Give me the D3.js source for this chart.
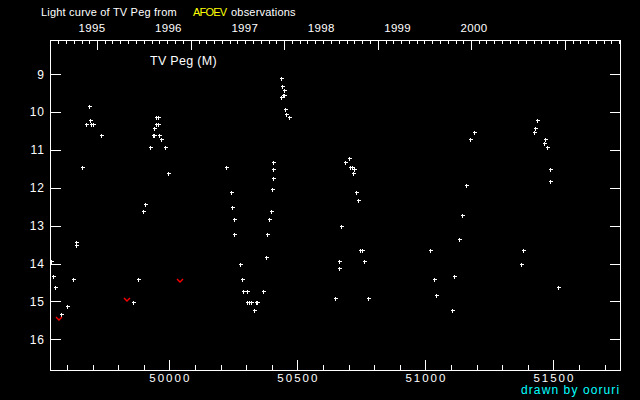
<!DOCTYPE html>
<html><head><meta charset="utf-8">
<script src="https://cdn.jsdelivr.net/npm/d3@7"></script>
<style>
html,body{margin:0;padding:0;background:#000;}
svg{display:block;}
text{font-family:"Liberation Sans",Arial,sans-serif;fill:#fff;}
</style></head>
<body>
<script>
// ---- data (JD - 2400000, visual magnitude) ----
const obsJD = [49688,49691,49676,49695,49703,49734,49660,49947,49957,49949,49957,49941,49935,49939,49961,49969,49926,49984,49996,49906,49898,
  49637,49637,49539,49547,49555,49625,49602,49578,49859,49879,
  50437,50441,50449,50445,50449,50437,50453,50457,50469,50223,50242,50246,50254,50406,50406,50406,50402,50398,50391,
  50703,50687,50707,50715,50723,50719,50730,50738,
  50672,50254,50383,50746,50754,50664,50762,50664,50379,50277,50285,50289,50305,50367,50305,50312,50320,50340,50344,50332,50648,50777,
  51191,51176,51160,51144,51437,51430,51426,51469,51465,51476,51488,51488,
  51133,51019,51113,51035,51043,51105,51383,51375,51519];
const obsMag = [9.83,10.22,10.33,10.33,10.33,10.62,11.44,10.12,10.12,10.33,10.33,10.43,10.62,10.62,10.62,10.72,10.93,10.93,11.62,12.44,12.62,
  13.44,13.52,13.94,14.34,14.63,14.42,15.13,15.34,15.02,14.42,
  9.11,9.32,9.43,9.54,9.54,9.61,9.93,10.04,10.12,11.44,12.12,12.52,12.83,11.33,11.51,11.73,12.02,12.62,12.83,
  11.22,11.33,11.44,11.44,11.51,11.62,12.12,12.33,
  13.02,13.23,13.23,13.63,13.63,13.94,13.94,14.13,13.84,14.02,14.42,14.73,14.73,14.73,15.02,15.02,15.02,15.02,15.02,15.23,14.92,14.92,
  10.54,10.72,11.94,12.73,10.22,10.43,10.54,10.72,10.83,10.93,11.51,11.83,
  13.34,13.63,14.34,14.42,14.84,15.23,13.63,14.02,14.63];
// "fainter than" upper limits
const limJD  = [49570,49836,50043];
const limMag = [15.46,14.97,14.47];

const magTicks = [9,10,11,12,13,14,15,16];
const jdLabels = [50000,50500,51000,51500];
const years = [1995,1996,1997,1998,1999,2000];

const W=640,H=400, L=50,R=620,T=40,B=370;
const svg = d3.select("body").append("svg").attr("width",W).attr("height",H)
  .style("background","#000");

const x = d3.scaleLinear().domain([49534,51760]).range([L,R]);
const y = d3.scaleLinear().domain([8.1,16.81]).range([T,B]);
const yearLabelX = d3.scaleLinear().domain([1995,2000]).range([92,474]);

const toJD = (yy,mm)=> Date.UTC(yy,mm,1)/86400000 + 40587.5;

const g = svg.append("g").attr("shape-rendering","crispEdges").attr("stroke","#fff").attr("stroke-width",1);
// frame
g.append("rect").attr("x",L+0.5).attr("y",T+0.5).attr("width",R-L).attr("height",B-T).attr("fill","none");

// bottom ticks every 100 days
const dayTicks = d3.range(49600,51760,100);
g.selectAll(".bt").data(dayTicks).join("line")
  .attr("x1",d=>Math.round(x(d))+0.5).attr("x2",d=>Math.round(x(d))+0.5)
  .attr("y1",B).attr("y2",d=>d%500===0?B-10:B-5);

// top month ticks
const months=[];
for(let yy=1994;yy<=2000;yy++) for(let mm=0;mm<12;mm++){const j=toJD(yy,mm); if(j>49534&&j<51760) months.push({j,major:mm===0});}
g.selectAll(".tt").data(months).join("line")
  .attr("x1",d=>Math.round(x(d.j))+0.5).attr("x2",d=>Math.round(x(d.j))+0.5)
  .attr("y1",T).attr("y2",d=>d.major?T+10:T+4);

// y ticks both sides
g.selectAll(".yl").data(magTicks).join("line")
  .attr("x1",L).attr("x2",L+11).attr("y1",d=>Math.round(y(d))+0.5).attr("y2",d=>Math.round(y(d))+0.5);
g.selectAll(".yr").data(magTicks).join("line")
  .attr("x1",R-10).attr("x2",R).attr("y1",d=>Math.round(y(d))+0.5).attr("y2",d=>Math.round(y(d))+0.5);

// labels
svg.selectAll(".ylab").data(magTicks).join("text")
  .attr("x",45).attr("y",d=>y(d)+4.5).attr("text-anchor","end")
  .style("font-size","12px").style("letter-spacing","1px").text(d=>d);
svg.selectAll(".xlab").data(jdLabels).join("text")
  .attr("x",d=>x(d)+1).attr("y",382).attr("text-anchor","middle")
  .style("font-size","11.5px").style("letter-spacing","2px").text(d=>d);
svg.selectAll(".yrlab").data(years).join("text")
  .attr("x",d=>yearLabelX(d)).attr("y",32).attr("text-anchor","middle")
  .style("font-size","11.5px").style("letter-spacing","0.3px").text(d=>d);

// title
svg.append("text").attr("x",41).attr("y",16).style("font-size","11px").style("letter-spacing","0.2px").text("Light curve of TV Peg from");
svg.append("text").attr("x",193).attr("y",16).style("font-size","11px").style("letter-spacing","-0.8px").style("fill","#ffff00").text("AFOEV");
svg.append("text").attr("x",231).attr("y",16).style("font-size","11px").style("letter-spacing","0.2px").text("observations");
svg.append("text").attr("x",150).attr("y",65).style("font-size","12.5px").style("letter-spacing","0.3px").text("TV Peg (M)");
svg.append("text").attr("x",521).attr("y",394).style("font-size","12px").style("letter-spacing","1.1px").style("fill","#00ffff").text("drawn by ooruri");

// observations
const pts = obsJD.map((j,i)=>({j,m:obsMag[i]}));
svg.append("g").selectAll("path").data(pts).join("path")
  .attr("transform",d=>`translate(${Math.round(x(d.j))+0.5},${Math.round(y(d.m))+0.5})`)
  .attr("d","M-2,0H2M0,-2V2").attr("stroke","#fff").attr("stroke-width",1).attr("shape-rendering","crispEdges");
const lims = limJD.map((j,i)=>({j,m:limMag[i]}));
svg.append("g").selectAll("path").data(lims).join("path")
  .attr("transform",d=>`translate(${Math.round(x(d.j))},${Math.round(y(d.m))})`)
  .attr("d","M-3,-2L0,1L3,-2").attr("fill","none").attr("stroke","#ff0000").attr("stroke-width",1.4);
</script>
</body></html>
